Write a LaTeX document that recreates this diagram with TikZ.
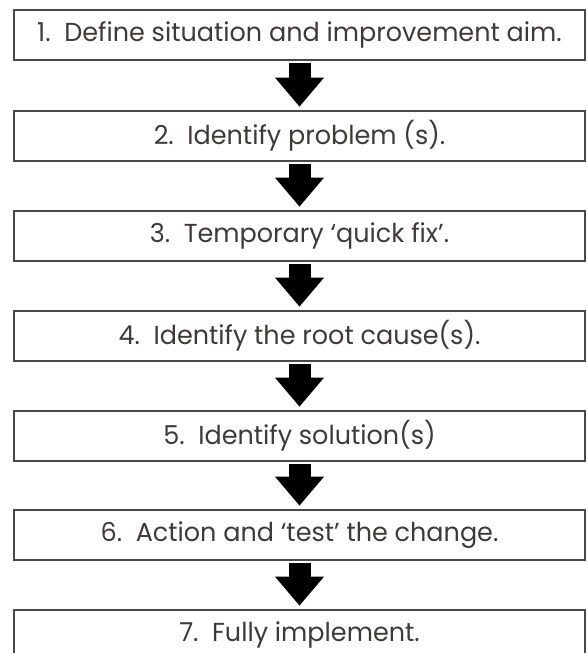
\documentclass[tikz,border=0pt]{standalone}
\usepackage{fontspec}
\setmainfont{Poppins}[FakeStretch=0.98]
\usetikzlibrary{arrows.meta}
\definecolor{textgray}{RGB}{62,58,58}
\definecolor{framegray}{RGB}{72,72,72}

\begin{document}
\begin{tikzpicture}
[x=1pt,y=-1pt,>={Triangle[width=47pt,length=29pt]},
box/.style={draw=framegray,line width=2.6pt,minimum width=571pt,minimum height=50pt,inner sep=0pt,text=textgray,font=\fontsize{26}{30}\selectfont},
flow/.style={->,line width=22pt,shorten <=1.3pt,shorten >=3pt},]

%Picture frame
\useasboundingbox (0,0) rectangle (587,653);
\clip (0,0) rectangle (587,653);

%Step boxes
\node (S1) at (299.5,35)[box] {1.~~Define situation and improvement aim.};
\node (S2) at (299.5,136)[box] {2.~~Identify problem (s).};
\node (S3) at (299.5,236)[box] {3.~~Temporary ‘quick fix’.};
\node (S4) at (299.5,336)[box] {4.~~Identify the root cause(s).};
\node (S5) at (299.5,436)[box] {5.~~Identify solution(s)};
\node (S6) at (299.5,535)[box] {6.~~Action and ‘test’ the change.};
\node (S7) at (299.5,635)[box] {7.~~Fully implement.};

%Drawing arrows between steps
\draw[flow] (S1) -- (S2);
\draw[flow] (S2) -- (S3);
\draw[flow] (S3) -- (S4);
\draw[flow] (S4) -- (S5);
\draw[flow] (S5) -- (S6);
\draw[flow] (S6) -- (S7);

\end{tikzpicture}
\end{document}
